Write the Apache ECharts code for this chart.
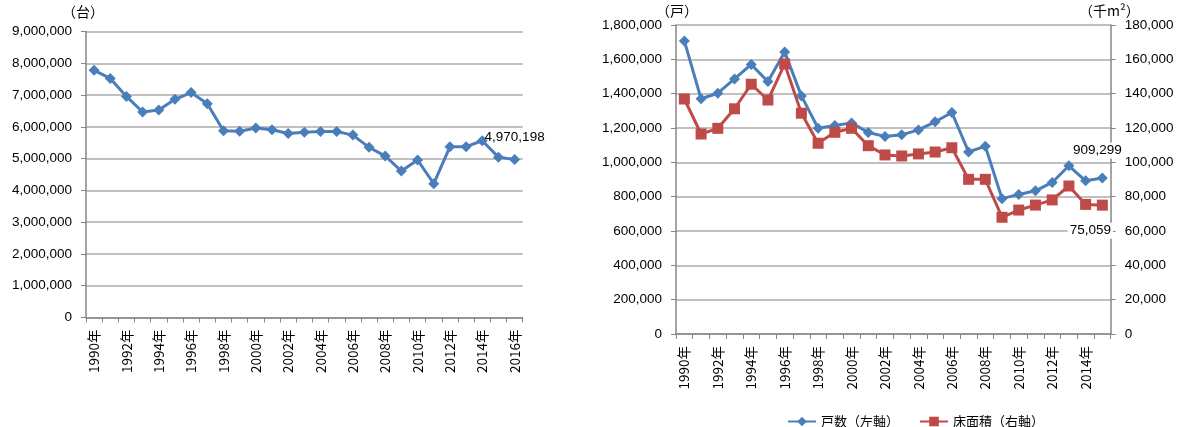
<!DOCTYPE html>
<html>
<head>
<meta charset="utf-8">
<script src="https://cdn.jsdelivr.net/npm/echarts@6/dist/echarts.min.js"></script>
<style>
  html, body { margin: 0; padding: 0; background: #fff; }
  #chart { width: 1184px; height: 427px; }
</style>
</head>
<body>
<div id="chart"></div>
<script>
// 新車販売台数（1990〜2016年）
const carYears = ['1990年','1991年','1992年','1993年','1994年','1995年','1996年','1997年','1998年','1999年',
  '2000年','2001年','2002年','2003年','2004年','2005年','2006年','2007年','2008年','2009年',
  '2010年','2011年','2012年','2013年','2014年','2015年','2016年'];
const carSales = [7777493, 7524172, 6958222, 6467667, 6526701, 6865034, 7077745, 6725026, 5879425, 5861216,
  5963042, 5906454, 5792076, 5828175, 5853211, 5852081, 5739536, 5353643, 5082133, 4609255,
  4956136, 4210220, 5369721, 5375513, 5562888, 5046510, 4970198];

// 新設住宅着工（1990〜2015年）
const houseYears = ['1990年','1991年','1992年','1993年','1994年','1995年','1996年','1997年','1998年','1999年',
  '2000年','2001年','2002年','2003年','2004年','2005年','2006年','2007年','2008年','2009年',
  '2010年','2011年','2012年','2013年','2014年','2015年'];
const houseUnits = [1707109, 1370126, 1402590, 1485684, 1570252, 1470330, 1643266, 1387014, 1198295, 1214601,
  1229843, 1173858, 1151016, 1160083, 1189049, 1236175, 1290391, 1060741, 1093519, 788410,
  813126, 834117, 882797, 980025, 892261, 909299];
const floorArea = [136900, 116500, 119800, 131200, 145500, 136300, 157300, 128600, 111100, 117500,
  119800, 109700, 104300, 103700, 104900, 106000, 108500, 90100, 90100, 68000,
  72200, 75100, 78100, 86200, 75500, 75059];

const BLUE = '#4A7EBB';
const RED = '#BE4B48';
const AXIS = '#868686';
const GRID = '#ABABAB';
const NUM_FONT = 'Liberation Sans, Arial, sans-serif';
const JP_FONT = '"Noto Sans CJK JP", sans-serif';

const fmt = v => Number(v).toLocaleString('en-US');

// Label only the final value of a series
function lastLabeled(values, label) {
  return values.map((v, i) => i === values.length - 1 ? { value: v, label: Object.assign({ show: true }, label) } : v);
}

function catAxis(gridIndex, data) {
  return {
    type: 'category', gridIndex, data, boundaryGap: true,
    axisLine: { lineStyle: { color: AXIS, width: 1.5 } },
    axisTick: { show: true, interval: 0, length: 5, lineStyle: { color: AXIS } },
    axisLabel: { interval: 1, rotate: 90, margin: 12, color: '#000', fontSize: 13.5, fontFamily: JP_FONT },
    splitLine: { show: false }
  };
}

function valAxis(gridIndex, max, interval, position, margin) {
  return {
    type: 'value', gridIndex, min: 0, max, interval, position,
    axisLine: { show: true, lineStyle: { color: AXIS, width: 1.5 } },
    axisTick: { show: true, length: 5, lineStyle: { color: AXIS } },
    axisLabel: { margin, color: '#000', fontSize: 13.5, fontFamily: NUM_FONT, formatter: fmt },
    splitLine: { show: position !== 'right', lineStyle: { color: GRID, width: 1.5 } }
  };
}

const lineCommon = { type: 'line', showAllSymbol: true, symbolSize: 11 };

const chart = echarts.init(document.getElementById('chart'), null, { renderer: 'canvas' });

chart.setOption({
  animation: false,
  backgroundColor: '#fff',
  textStyle: { fontFamily: NUM_FONT },
  grid: [
    { left: 86, top: 31.5, width: 436.7, height: 286, containLabel: false },
    { left: 676, top: 25, width: 434.7, height: 309, containLabel: false }
  ],
  xAxis: [catAxis(0, carYears), catAxis(1, houseYears)],
  yAxis: [
    valAxis(0, 9000000, 1000000, 'left', 14),
    valAxis(1, 1800000, 200000, 'left', 14),
    valAxis(1, 180000, 20000, 'right', 14)
  ],
  legend: {
    left: 782, top: 410, itemWidth: 28, itemHeight: 12, itemGap: 20,
    textStyle: { color: '#000', fontSize: 13, fontFamily: JP_FONT },
    data: ['戸数（左軸）', '床面積（右軸）']
  },
  graphic: [
    { type: 'text', left: 62, top: 5, style: { text: '（台）', fontSize: 14, fontFamily: JP_FONT, fill: '#000' } },
    { type: 'text', left: 656, top: 4, style: { text: '（戸）', fontSize: 14, fontFamily: JP_FONT, fill: '#000' } },
    { type: 'text', left: 1079, top: 4, style: { text: '（千m²）', fontSize: 14, fontFamily: JP_FONT, fill: '#000' } }
  ],
  series: [
    Object.assign({}, lineCommon, {
      name: '新車販売台数', xAxisIndex: 0, yAxisIndex: 0, symbol: 'diamond',
      data: lastLabeled(carSales, { position: 'top', distance: 10, color: '#000', fontSize: 13.5, fontFamily: NUM_FONT, formatter: p => fmt(p.value) }),
      lineStyle: { color: BLUE, width: 3 }, itemStyle: { color: BLUE }
    }),
    Object.assign({}, lineCommon, {
      name: '戸数（左軸）', xAxisIndex: 1, yAxisIndex: 1, symbol: 'diamond',
      data: lastLabeled(houseUnits, { position: 'top', distance: 14, offset: [-5, 0], color: '#000', fontSize: 13.5, fontFamily: NUM_FONT, backgroundColor: '#fff', padding: [1, 1], formatter: p => fmt(p.value) }),
      lineStyle: { color: BLUE, width: 3 }, itemStyle: { color: BLUE }
    }),
    Object.assign({}, lineCommon, {
      name: '床面積（右軸）', xAxisIndex: 1, yAxisIndex: 2, symbol: 'rect',
      data: lastLabeled(floorArea, { position: 'bottom', distance: 12, offset: [-12, 0], color: '#000', fontSize: 13.5, fontFamily: NUM_FONT, backgroundColor: '#fff', padding: [1, 2], formatter: p => fmt(p.value) }),
      lineStyle: { color: RED, width: 3 }, itemStyle: { color: RED }
    })
  ]
});
</script>
</body>
</html>
